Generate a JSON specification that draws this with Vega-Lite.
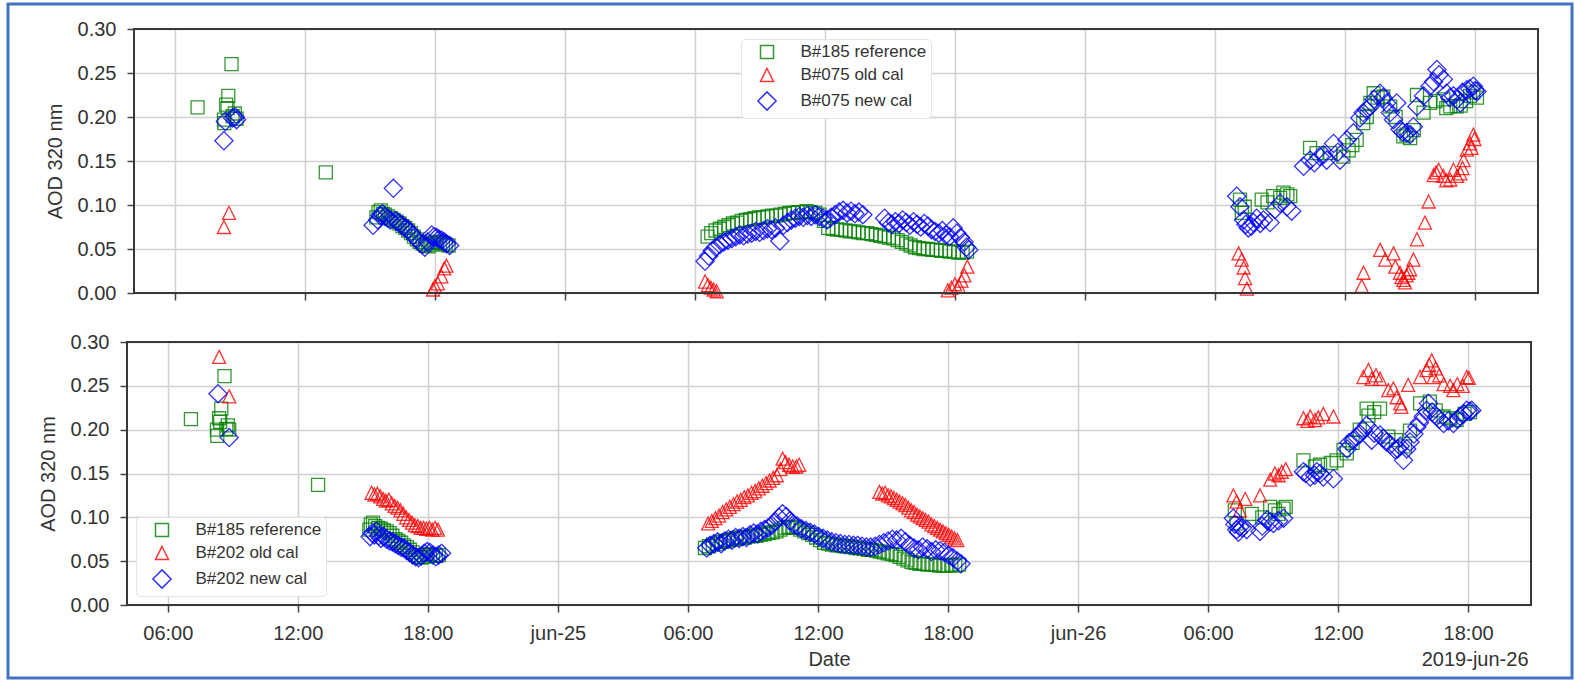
{
"$schema": "https://vega.github.io/schema/vega-lite/v6.json",
"width": 1564, "height": 674,
"autosize": {"type": "none"},
"padding": {"left": 8, "top": 4, "right": 3, "bottom": 4},
"background": "white",
"config": {
  "font": "Liberation Sans",
  "view": {"stroke": "#4472c4", "strokeWidth": 3},
  "axis": {"labelFont": "Liberation Sans", "labelFontSize": 20, "labelColor": "#333333", "titleFont": "Liberation Sans", "titleFontSize": 20, "titleFontWeight": "normal", "titleColor": "#333333", "tickColor": "#444444", "tickWidth": 1.5, "tickSize": 7, "gridColor": "#d0d0d0", "gridWidth": 1.5, "domain": false, "labelPadding": 11, "labelFlush": false},
  "legend": {"labelFont": "Liberation Sans", "labelFontSize": 17, "labelColor": "#333333", "symbolStrokeWidth": 1.5, "symbolSize": 169, "padding": 4.5, "rowPadding": 4, "symbolOffset": 13, "labelOffset": 25, "fillColor": "white", "strokeColor": "#e4e4e4", "cornerRadius": 4, "labelLimit": 300}
},
"resolve": {"scale": {"x": "independent", "y": "independent", "color": "independent", "shape": "independent"}},
"datasets": {
"top": [
{"t":"2019-06-24T07:03","s":"B#185 reference","v":0.211},{"t":"2019-06-24T08:16","s":"B#185 reference","v":0.197},{"t":"2019-06-24T08:17","s":"B#185 reference","v":0.193},{"t":"2019-06-24T08:22","s":"B#185 reference","v":0.214},{"t":"2019-06-24T08:26","s":"B#185 reference","v":0.210},{"t":"2019-06-24T08:28","s":"B#185 reference","v":0.224},{"t":"2019-06-24T08:37","s":"B#185 reference","v":0.260},{"t":"2019-06-24T08:40","s":"B#185 reference","v":0.201},{"t":"2019-06-24T08:46","s":"B#185 reference","v":0.204},{"t":"2019-06-24T08:51","s":"B#185 reference","v":0.198},{"t":"2019-06-24T12:58","s":"B#185 reference","v":0.137},
{"t":"2019-06-24T15:18","s":"B#185 reference","v":0.086},{"t":"2019-06-24T15:24","s":"B#185 reference","v":0.092},{"t":"2019-06-24T15:30","s":"B#185 reference","v":0.094},{"t":"2019-06-24T15:36","s":"B#185 reference","v":0.090},{"t":"2019-06-24T15:42","s":"B#185 reference","v":0.089},{"t":"2019-06-24T15:50","s":"B#185 reference","v":0.087},{"t":"2019-06-24T15:58","s":"B#185 reference","v":0.085},{"t":"2019-06-24T16:06","s":"B#185 reference","v":0.083},{"t":"2019-06-24T16:14","s":"B#185 reference","v":0.081},{"t":"2019-06-24T16:22","s":"B#185 reference","v":0.079},{"t":"2019-06-24T16:30","s":"B#185 reference","v":0.076},{"t":"2019-06-24T16:38","s":"B#185 reference","v":0.074},{"t":"2019-06-24T16:46","s":"B#185 reference","v":0.071},{"t":"2019-06-24T16:54","s":"B#185 reference","v":0.068},{"t":"2019-06-24T17:02","s":"B#185 reference","v":0.064},{"t":"2019-06-24T17:10","s":"B#185 reference","v":0.061},{"t":"2019-06-24T17:18","s":"B#185 reference","v":0.058},{"t":"2019-06-24T17:26","s":"B#185 reference","v":0.056},{"t":"2019-06-24T17:34","s":"B#185 reference","v":0.054},{"t":"2019-06-24T17:42","s":"B#185 reference","v":0.053},{"t":"2019-06-24T17:50","s":"B#185 reference","v":0.055},{"t":"2019-06-24T17:58","s":"B#185 reference","v":0.057},{"t":"2019-06-24T18:06","s":"B#185 reference","v":0.058},{"t":"2019-06-24T18:14","s":"B#185 reference","v":0.057},{"t":"2019-06-24T18:22","s":"B#185 reference","v":0.056},{"t":"2019-06-24T18:30","s":"B#185 reference","v":0.055},{"t":"2019-06-24T18:38","s":"B#185 reference","v":0.054},
{"t":"2019-06-25T06:35","s":"B#185 reference","v":0.064},{"t":"2019-06-25T06:45","s":"B#185 reference","v":0.068},{"t":"2019-06-25T06:57","s":"B#185 reference","v":0.071},{"t":"2019-06-25T07:09","s":"B#185 reference","v":0.073},{"t":"2019-06-25T07:21","s":"B#185 reference","v":0.075},{"t":"2019-06-25T07:33","s":"B#185 reference","v":0.077},{"t":"2019-06-25T07:45","s":"B#185 reference","v":0.079},{"t":"2019-06-25T07:57","s":"B#185 reference","v":0.080},{"t":"2019-06-25T08:09","s":"B#185 reference","v":0.082},{"t":"2019-06-25T08:21","s":"B#185 reference","v":0.083},{"t":"2019-06-25T08:33","s":"B#185 reference","v":0.084},{"t":"2019-06-25T08:45","s":"B#185 reference","v":0.085},{"t":"2019-06-25T08:57","s":"B#185 reference","v":0.086},{"t":"2019-06-25T09:09","s":"B#185 reference","v":0.086},{"t":"2019-06-25T09:21","s":"B#185 reference","v":0.087},{"t":"2019-06-25T09:33","s":"B#185 reference","v":0.088},{"t":"2019-06-25T09:45","s":"B#185 reference","v":0.088},{"t":"2019-06-25T09:57","s":"B#185 reference","v":0.089},{"t":"2019-06-25T10:09","s":"B#185 reference","v":0.090},{"t":"2019-06-25T10:21","s":"B#185 reference","v":0.091},{"t":"2019-06-25T10:33","s":"B#185 reference","v":0.091},{"t":"2019-06-25T10:45","s":"B#185 reference","v":0.092},{"t":"2019-06-25T10:57","s":"B#185 reference","v":0.092},{"t":"2019-06-25T11:09","s":"B#185 reference","v":0.093},{"t":"2019-06-25T11:21","s":"B#185 reference","v":0.092},{"t":"2019-06-25T11:33","s":"B#185 reference","v":0.091},{"t":"2019-06-25T11:45","s":"B#185 reference","v":0.089},{"t":"2019-06-25T11:57","s":"B#185 reference","v":0.082},{"t":"2019-06-25T12:09","s":"B#185 reference","v":0.074},{"t":"2019-06-25T12:21","s":"B#185 reference","v":0.073},{"t":"2019-06-25T12:33","s":"B#185 reference","v":0.072},{"t":"2019-06-25T12:45","s":"B#185 reference","v":0.072},{"t":"2019-06-25T12:57","s":"B#185 reference","v":0.071},{"t":"2019-06-25T13:09","s":"B#185 reference","v":0.070},{"t":"2019-06-25T13:21","s":"B#185 reference","v":0.070},{"t":"2019-06-25T13:33","s":"B#185 reference","v":0.069},{"t":"2019-06-25T13:45","s":"B#185 reference","v":0.068},{"t":"2019-06-25T13:57","s":"B#185 reference","v":0.068},{"t":"2019-06-25T14:09","s":"B#185 reference","v":0.067},{"t":"2019-06-25T14:21","s":"B#185 reference","v":0.066},{"t":"2019-06-25T14:33","s":"B#185 reference","v":0.065},{"t":"2019-06-25T14:45","s":"B#185 reference","v":0.064},{"t":"2019-06-25T14:57","s":"B#185 reference","v":0.063},{"t":"2019-06-25T15:09","s":"B#185 reference","v":0.062},{"t":"2019-06-25T15:21","s":"B#185 reference","v":0.060},{"t":"2019-06-25T15:33","s":"B#185 reference","v":0.058},{"t":"2019-06-25T15:45","s":"B#185 reference","v":0.056},{"t":"2019-06-25T15:57","s":"B#185 reference","v":0.054},{"t":"2019-06-25T16:09","s":"B#185 reference","v":0.052},{"t":"2019-06-25T16:21","s":"B#185 reference","v":0.051},{"t":"2019-06-25T16:33","s":"B#185 reference","v":0.050},{"t":"2019-06-25T16:45","s":"B#185 reference","v":0.050},{"t":"2019-06-25T16:57","s":"B#185 reference","v":0.049},{"t":"2019-06-25T17:09","s":"B#185 reference","v":0.049},{"t":"2019-06-25T17:21","s":"B#185 reference","v":0.048},{"t":"2019-06-25T17:33","s":"B#185 reference","v":0.048},{"t":"2019-06-25T17:45","s":"B#185 reference","v":0.047},{"t":"2019-06-25T17:57","s":"B#185 reference","v":0.047},{"t":"2019-06-25T18:09","s":"B#185 reference","v":0.046},{"t":"2019-06-25T18:21","s":"B#185 reference","v":0.046},{"t":"2019-06-25T18:33","s":"B#185 reference","v":0.047},
{"t":"2019-06-26T07:09","s":"B#185 reference","v":0.106},{"t":"2019-06-26T07:14","s":"B#185 reference","v":0.091},{"t":"2019-06-26T07:22","s":"B#185 reference","v":0.098},{"t":"2019-06-26T08:09","s":"B#185 reference","v":0.106},{"t":"2019-06-26T08:25","s":"B#185 reference","v":0.103},{"t":"2019-06-26T08:41","s":"B#185 reference","v":0.110},{"t":"2019-06-26T09:00","s":"B#185 reference","v":0.108},{"t":"2019-06-26T09:09","s":"B#185 reference","v":0.114},{"t":"2019-06-26T09:20","s":"B#185 reference","v":0.112},{"t":"2019-06-26T09:28","s":"B#185 reference","v":0.110},{"t":"2019-06-26T10:23","s":"B#185 reference","v":0.165},{"t":"2019-06-26T10:41","s":"B#185 reference","v":0.159},{"t":"2019-06-26T11:19","s":"B#185 reference","v":0.159},{"t":"2019-06-26T11:55","s":"B#185 reference","v":0.155},{"t":"2019-06-26T12:10","s":"B#185 reference","v":0.162},{"t":"2019-06-26T12:20","s":"B#185 reference","v":0.168},{"t":"2019-06-26T12:32","s":"B#185 reference","v":0.174},{"t":"2019-06-26T12:50","s":"B#185 reference","v":0.193},{"t":"2019-06-26T13:00","s":"B#185 reference","v":0.200},{"t":"2019-06-26T13:10","s":"B#185 reference","v":0.216},{"t":"2019-06-26T13:19","s":"B#185 reference","v":0.227},{"t":"2019-06-26T13:30","s":"B#185 reference","v":0.222},{"t":"2019-06-26T13:46","s":"B#185 reference","v":0.223},{"t":"2019-06-26T14:05","s":"B#185 reference","v":0.212},{"t":"2019-06-26T14:20","s":"B#185 reference","v":0.200},{"t":"2019-06-26T14:41","s":"B#185 reference","v":0.178},{"t":"2019-06-26T14:50","s":"B#185 reference","v":0.180},{"t":"2019-06-26T15:00","s":"B#185 reference","v":0.176},{"t":"2019-06-26T15:10","s":"B#185 reference","v":0.185},{"t":"2019-06-26T15:19","s":"B#185 reference","v":0.225},{"t":"2019-06-26T15:37","s":"B#185 reference","v":0.205},{"t":"2019-06-26T15:55","s":"B#185 reference","v":0.216},{"t":"2019-06-26T16:10","s":"B#185 reference","v":0.218},{"t":"2019-06-26T16:32","s":"B#185 reference","v":0.220},{"t":"2019-06-26T16:40","s":"B#185 reference","v":0.210},{"t":"2019-06-26T16:51","s":"B#185 reference","v":0.212},{"t":"2019-06-26T17:09","s":"B#185 reference","v":0.212},{"t":"2019-06-26T17:20","s":"B#185 reference","v":0.213},{"t":"2019-06-26T17:35","s":"B#185 reference","v":0.218},{"t":"2019-06-26T17:46","s":"B#185 reference","v":0.224},{"t":"2019-06-26T17:55","s":"B#185 reference","v":0.228},{"t":"2019-06-26T18:05","s":"B#185 reference","v":0.222},
{"t":"2019-06-24T08:16","s":"B#075 old cal","v":0.075},{"t":"2019-06-24T08:30","s":"B#075 old cal","v":0.091},{"t":"2019-06-24T17:55","s":"B#075 old cal","v":0.004},{"t":"2019-06-24T18:00","s":"B#075 old cal","v":0.008},{"t":"2019-06-24T18:08","s":"B#075 old cal","v":0.011},{"t":"2019-06-24T18:18","s":"B#075 old cal","v":0.019},{"t":"2019-06-24T18:26","s":"B#075 old cal","v":0.028},{"t":"2019-06-24T18:32","s":"B#075 old cal","v":0.031},
{"t":"2019-06-25T06:28","s":"B#075 old cal","v":0.013},{"t":"2019-06-25T06:36","s":"B#075 old cal","v":0.009},{"t":"2019-06-25T06:44","s":"B#075 old cal","v":0.006},{"t":"2019-06-25T06:52","s":"B#075 old cal","v":0.004},{"t":"2019-06-25T07:00","s":"B#075 old cal","v":0.002},{"t":"2019-06-25T17:40","s":"B#075 old cal","v":0.003},{"t":"2019-06-25T17:50","s":"B#075 old cal","v":0.006},{"t":"2019-06-25T18:00","s":"B#075 old cal","v":0.010},{"t":"2019-06-25T18:10","s":"B#075 old cal","v":0.008},{"t":"2019-06-25T18:18","s":"B#075 old cal","v":0.014},{"t":"2019-06-25T18:26","s":"B#075 old cal","v":0.020},{"t":"2019-06-25T18:34","s":"B#075 old cal","v":0.030},
{"t":"2019-06-26T07:05","s":"B#075 old cal","v":0.045},{"t":"2019-06-26T07:14","s":"B#075 old cal","v":0.038},{"t":"2019-06-26T07:19","s":"B#075 old cal","v":0.029},{"t":"2019-06-26T07:23","s":"B#075 old cal","v":0.017},{"t":"2019-06-26T07:28","s":"B#075 old cal","v":0.005},{"t":"2019-06-26T12:46","s":"B#075 old cal","v":0.008},{"t":"2019-06-26T12:51","s":"B#075 old cal","v":0.023},{"t":"2019-06-26T13:37","s":"B#075 old cal","v":0.049},{"t":"2019-06-26T13:51","s":"B#075 old cal","v":0.038},{"t":"2019-06-26T14:14","s":"B#075 old cal","v":0.045},{"t":"2019-06-26T14:19","s":"B#075 old cal","v":0.030},{"t":"2019-06-26T14:32","s":"B#075 old cal","v":0.023},{"t":"2019-06-26T14:36","s":"B#075 old cal","v":0.018},{"t":"2019-06-26T14:41","s":"B#075 old cal","v":0.015},{"t":"2019-06-26T14:46","s":"B#075 old cal","v":0.012},{"t":"2019-06-26T14:50","s":"B#075 old cal","v":0.020},{"t":"2019-06-26T14:55","s":"B#075 old cal","v":0.023},{"t":"2019-06-26T15:00","s":"B#075 old cal","v":0.027},{"t":"2019-06-26T15:09","s":"B#075 old cal","v":0.038},{"t":"2019-06-26T15:19","s":"B#075 old cal","v":0.061},{"t":"2019-06-26T15:41","s":"B#075 old cal","v":0.080},{"t":"2019-06-26T15:51","s":"B#075 old cal","v":0.104},{"t":"2019-06-26T16:05","s":"B#075 old cal","v":0.134},{"t":"2019-06-26T16:12","s":"B#075 old cal","v":0.137},{"t":"2019-06-26T16:19","s":"B#075 old cal","v":0.140},{"t":"2019-06-26T16:32","s":"B#075 old cal","v":0.133},{"t":"2019-06-26T16:40","s":"B#075 old cal","v":0.128},{"t":"2019-06-26T16:51","s":"B#075 old cal","v":0.129},{"t":"2019-06-26T17:00","s":"B#075 old cal","v":0.140},{"t":"2019-06-26T17:10","s":"B#075 old cal","v":0.133},{"t":"2019-06-26T17:19","s":"B#075 old cal","v":0.136},{"t":"2019-06-26T17:25","s":"B#075 old cal","v":0.142},{"t":"2019-06-26T17:28","s":"B#075 old cal","v":0.151},{"t":"2019-06-26T17:37","s":"B#075 old cal","v":0.163},{"t":"2019-06-26T17:46","s":"B#075 old cal","v":0.170},{"t":"2019-06-26T17:50","s":"B#075 old cal","v":0.165},{"t":"2019-06-26T17:55","s":"B#075 old cal","v":0.180},{"t":"2019-06-26T17:58","s":"B#075 old cal","v":0.175},
{"t":"2019-06-24T08:16","s":"B#075 new cal","v":0.173},{"t":"2019-06-24T08:20","s":"B#075 new cal","v":0.195},{"t":"2019-06-24T08:40","s":"B#075 new cal","v":0.199},{"t":"2019-06-24T08:47","s":"B#075 new cal","v":0.200},{"t":"2019-06-24T08:51","s":"B#075 new cal","v":0.197},
{"t":"2019-06-24T15:09","s":"B#075 new cal","v":0.077},{"t":"2019-06-24T15:22","s":"B#075 new cal","v":0.083},{"t":"2019-06-24T15:28","s":"B#075 new cal","v":0.088},{"t":"2019-06-24T15:35","s":"B#075 new cal","v":0.090},{"t":"2019-06-24T15:42","s":"B#075 new cal","v":0.087},{"t":"2019-06-24T15:50","s":"B#075 new cal","v":0.085},{"t":"2019-06-24T15:57","s":"B#075 new cal","v":0.083},{"t":"2019-06-24T16:05","s":"B#075 new cal","v":0.119},{"t":"2019-06-24T16:12","s":"B#075 new cal","v":0.082},{"t":"2019-06-24T16:19","s":"B#075 new cal","v":0.080},{"t":"2019-06-24T16:26","s":"B#075 new cal","v":0.078},{"t":"2019-06-24T16:32","s":"B#075 new cal","v":0.076},{"t":"2019-06-24T16:39","s":"B#075 new cal","v":0.074},{"t":"2019-06-24T16:46","s":"B#075 new cal","v":0.072},{"t":"2019-06-24T16:53","s":"B#075 new cal","v":0.069},{"t":"2019-06-24T17:00","s":"B#075 new cal","v":0.065},{"t":"2019-06-24T17:10","s":"B#075 new cal","v":0.061},{"t":"2019-06-24T17:18","s":"B#075 new cal","v":0.057},{"t":"2019-06-24T17:25","s":"B#075 new cal","v":0.055},{"t":"2019-06-24T17:32","s":"B#075 new cal","v":0.052},{"t":"2019-06-24T17:40","s":"B#075 new cal","v":0.058},{"t":"2019-06-24T17:51","s":"B#075 new cal","v":0.066},{"t":"2019-06-24T17:58","s":"B#075 new cal","v":0.064},{"t":"2019-06-24T18:05","s":"B#075 new cal","v":0.063},{"t":"2019-06-24T18:12","s":"B#075 new cal","v":0.061},{"t":"2019-06-24T18:19","s":"B#075 new cal","v":0.060},{"t":"2019-06-24T18:26","s":"B#075 new cal","v":0.058},{"t":"2019-06-24T18:32","s":"B#075 new cal","v":0.056},{"t":"2019-06-24T18:41","s":"B#075 new cal","v":0.054},
{"t":"2019-06-25T06:28","s":"B#075 new cal","v":0.036},{"t":"2019-06-25T06:38","s":"B#075 new cal","v":0.042},{"t":"2019-06-25T06:48","s":"B#075 new cal","v":0.048},{"t":"2019-06-25T06:58","s":"B#075 new cal","v":0.052},{"t":"2019-06-25T07:09","s":"B#075 new cal","v":0.055},{"t":"2019-06-25T07:20","s":"B#075 new cal","v":0.058},{"t":"2019-06-25T07:31","s":"B#075 new cal","v":0.060},{"t":"2019-06-25T07:42","s":"B#075 new cal","v":0.062},{"t":"2019-06-25T07:53","s":"B#075 new cal","v":0.064},{"t":"2019-06-25T08:04","s":"B#075 new cal","v":0.066},{"t":"2019-06-25T08:15","s":"B#075 new cal","v":0.065},{"t":"2019-06-25T08:26","s":"B#075 new cal","v":0.067},{"t":"2019-06-25T08:37","s":"B#075 new cal","v":0.068},{"t":"2019-06-25T08:48","s":"B#075 new cal","v":0.070},{"t":"2019-06-25T08:59","s":"B#075 new cal","v":0.069},{"t":"2019-06-25T09:10","s":"B#075 new cal","v":0.071},{"t":"2019-06-25T09:21","s":"B#075 new cal","v":0.073},{"t":"2019-06-25T09:32","s":"B#075 new cal","v":0.072},{"t":"2019-06-25T09:43","s":"B#075 new cal","v":0.074},{"t":"2019-06-25T09:55","s":"B#075 new cal","v":0.059},{"t":"2019-06-25T10:05","s":"B#075 new cal","v":0.077},{"t":"2019-06-25T10:16","s":"B#075 new cal","v":0.080},{"t":"2019-06-25T10:27","s":"B#075 new cal","v":0.083},{"t":"2019-06-25T10:38","s":"B#075 new cal","v":0.085},{"t":"2019-06-25T10:49","s":"B#075 new cal","v":0.087},{"t":"2019-06-25T11:00","s":"B#075 new cal","v":0.086},{"t":"2019-06-25T11:11","s":"B#075 new cal","v":0.088},{"t":"2019-06-25T11:22","s":"B#075 new cal","v":0.087},{"t":"2019-06-25T11:33","s":"B#075 new cal","v":0.089},{"t":"2019-06-25T11:44","s":"B#075 new cal","v":0.087},{"t":"2019-06-25T11:55","s":"B#075 new cal","v":0.085},{"t":"2019-06-25T12:06","s":"B#075 new cal","v":0.083},{"t":"2019-06-25T12:17","s":"B#075 new cal","v":0.086},{"t":"2019-06-25T12:28","s":"B#075 new cal","v":0.089},{"t":"2019-06-25T12:39","s":"B#075 new cal","v":0.092},{"t":"2019-06-25T12:50","s":"B#075 new cal","v":0.094},{"t":"2019-06-25T13:01","s":"B#075 new cal","v":0.091},{"t":"2019-06-25T13:12","s":"B#075 new cal","v":0.093},{"t":"2019-06-25T13:23","s":"B#075 new cal","v":0.090},{"t":"2019-06-25T13:34","s":"B#075 new cal","v":0.092},{"t":"2019-06-25T13:45","s":"B#075 new cal","v":0.089},{"t":"2019-06-25T14:45","s":"B#075 new cal","v":0.085},{"t":"2019-06-25T14:55","s":"B#075 new cal","v":0.080},{"t":"2019-06-25T15:05","s":"B#075 new cal","v":0.078},{"t":"2019-06-25T15:15","s":"B#075 new cal","v":0.081},{"t":"2019-06-25T15:25","s":"B#075 new cal","v":0.079},{"t":"2019-06-25T15:35","s":"B#075 new cal","v":0.083},{"t":"2019-06-25T15:45","s":"B#075 new cal","v":0.080},{"t":"2019-06-25T15:55","s":"B#075 new cal","v":0.077},{"t":"2019-06-25T16:05","s":"B#075 new cal","v":0.081},{"t":"2019-06-25T16:15","s":"B#075 new cal","v":0.078},{"t":"2019-06-25T16:25","s":"B#075 new cal","v":0.075},{"t":"2019-06-25T16:35","s":"B#075 new cal","v":0.079},{"t":"2019-06-25T16:45","s":"B#075 new cal","v":0.076},{"t":"2019-06-25T16:55","s":"B#075 new cal","v":0.072},{"t":"2019-06-25T17:05","s":"B#075 new cal","v":0.070},{"t":"2019-06-25T17:15","s":"B#075 new cal","v":0.068},{"t":"2019-06-25T17:25","s":"B#075 new cal","v":0.071},{"t":"2019-06-25T17:35","s":"B#075 new cal","v":0.066},{"t":"2019-06-25T17:45","s":"B#075 new cal","v":0.064},{"t":"2019-06-25T17:55","s":"B#075 new cal","v":0.074},{"t":"2019-06-25T18:05","s":"B#075 new cal","v":0.068},{"t":"2019-06-25T18:15","s":"B#075 new cal","v":0.063},{"t":"2019-06-25T18:25","s":"B#075 new cal","v":0.058},{"t":"2019-06-25T18:32","s":"B#075 new cal","v":0.052},{"t":"2019-06-25T18:38","s":"B#075 new cal","v":0.049},
{"t":"2019-06-26T07:00","s":"B#075 new cal","v":0.110},{"t":"2019-06-26T07:09","s":"B#075 new cal","v":0.098},{"t":"2019-06-26T07:19","s":"B#075 new cal","v":0.083},{"t":"2019-06-26T07:25","s":"B#075 new cal","v":0.078},{"t":"2019-06-26T07:32","s":"B#075 new cal","v":0.074},{"t":"2019-06-26T07:40","s":"B#075 new cal","v":0.076},{"t":"2019-06-26T07:46","s":"B#075 new cal","v":0.080},{"t":"2019-06-26T07:55","s":"B#075 new cal","v":0.085},{"t":"2019-06-26T08:05","s":"B#075 new cal","v":0.079},{"t":"2019-06-26T08:14","s":"B#075 new cal","v":0.083},{"t":"2019-06-26T08:32","s":"B#075 new cal","v":0.080},{"t":"2019-06-26T08:46","s":"B#075 new cal","v":0.095},{"t":"2019-06-26T09:00","s":"B#075 new cal","v":0.102},{"t":"2019-06-26T09:19","s":"B#075 new cal","v":0.098},{"t":"2019-06-26T09:32","s":"B#075 new cal","v":0.093},{"t":"2019-06-26T10:05","s":"B#075 new cal","v":0.144},{"t":"2019-06-26T10:23","s":"B#075 new cal","v":0.151},{"t":"2019-06-26T10:35","s":"B#075 new cal","v":0.148},{"t":"2019-06-26T10:50","s":"B#075 new cal","v":0.155},{"t":"2019-06-26T11:00","s":"B#075 new cal","v":0.157},{"t":"2019-06-26T11:09","s":"B#075 new cal","v":0.151},{"t":"2019-06-26T11:28","s":"B#075 new cal","v":0.170},{"t":"2019-06-26T11:40","s":"B#075 new cal","v":0.160},{"t":"2019-06-26T11:46","s":"B#075 new cal","v":0.151},{"t":"2019-06-26T12:05","s":"B#075 new cal","v":0.174},{"t":"2019-06-26T12:23","s":"B#075 new cal","v":0.182},{"t":"2019-06-26T12:41","s":"B#075 new cal","v":0.199},{"t":"2019-06-26T12:50","s":"B#075 new cal","v":0.205},{"t":"2019-06-26T13:00","s":"B#075 new cal","v":0.208},{"t":"2019-06-26T13:09","s":"B#075 new cal","v":0.212},{"t":"2019-06-26T13:20","s":"B#075 new cal","v":0.220},{"t":"2019-06-26T13:37","s":"B#075 new cal","v":0.227},{"t":"2019-06-26T13:45","s":"B#075 new cal","v":0.222},{"t":"2019-06-26T13:55","s":"B#075 new cal","v":0.216},{"t":"2019-06-26T14:05","s":"B#075 new cal","v":0.205},{"t":"2019-06-26T14:14","s":"B#075 new cal","v":0.197},{"t":"2019-06-26T14:23","s":"B#075 new cal","v":0.216},{"t":"2019-06-26T14:32","s":"B#075 new cal","v":0.186},{"t":"2019-06-26T14:40","s":"B#075 new cal","v":0.183},{"t":"2019-06-26T14:50","s":"B#075 new cal","v":0.182},{"t":"2019-06-26T15:00","s":"B#075 new cal","v":0.180},{"t":"2019-06-26T15:09","s":"B#075 new cal","v":0.189},{"t":"2019-06-26T15:19","s":"B#075 new cal","v":0.212},{"t":"2019-06-26T15:37","s":"B#075 new cal","v":0.224},{"t":"2019-06-26T15:55","s":"B#075 new cal","v":0.235},{"t":"2019-06-26T16:05","s":"B#075 new cal","v":0.240},{"t":"2019-06-26T16:14","s":"B#075 new cal","v":0.254},{"t":"2019-06-26T16:20","s":"B#075 new cal","v":0.248},{"t":"2019-06-26T16:32","s":"B#075 new cal","v":0.243},{"t":"2019-06-26T16:41","s":"B#075 new cal","v":0.227},{"t":"2019-06-26T16:50","s":"B#075 new cal","v":0.222},{"t":"2019-06-26T17:00","s":"B#075 new cal","v":0.224},{"t":"2019-06-26T17:10","s":"B#075 new cal","v":0.220},{"t":"2019-06-26T17:19","s":"B#075 new cal","v":0.216},{"t":"2019-06-26T17:25","s":"B#075 new cal","v":0.228},{"t":"2019-06-26T17:37","s":"B#075 new cal","v":0.231},{"t":"2019-06-26T17:45","s":"B#075 new cal","v":0.232},{"t":"2019-06-26T17:55","s":"B#075 new cal","v":0.235},{"t":"2019-06-26T18:00","s":"B#075 new cal","v":0.230},{"t":"2019-06-26T18:05","s":"B#075 new cal","v":0.229}
],
"bot": [
{"t":"2019-06-24T07:04","s":"B#185 reference","v":0.212},{"t":"2019-06-24T08:16","s":"B#185 reference","v":0.200},{"t":"2019-06-24T08:17","s":"B#185 reference","v":0.193},{"t":"2019-06-24T08:22","s":"B#185 reference","v":0.213},{"t":"2019-06-24T08:25","s":"B#185 reference","v":0.209},{"t":"2019-06-24T08:28","s":"B#185 reference","v":0.224},{"t":"2019-06-24T08:37","s":"B#185 reference","v":0.261},{"t":"2019-06-24T08:42","s":"B#185 reference","v":0.201},{"t":"2019-06-24T08:46","s":"B#185 reference","v":0.205},{"t":"2019-06-24T08:50","s":"B#185 reference","v":0.200},{"t":"2019-06-24T12:56","s":"B#185 reference","v":0.137},
{"t":"2019-06-24T15:18","s":"B#185 reference","v":0.086},{"t":"2019-06-24T15:22","s":"B#185 reference","v":0.092},{"t":"2019-06-24T15:28","s":"B#185 reference","v":0.094},{"t":"2019-06-24T15:34","s":"B#185 reference","v":0.090},{"t":"2019-06-24T15:42","s":"B#185 reference","v":0.088},{"t":"2019-06-24T15:50","s":"B#185 reference","v":0.087},{"t":"2019-06-24T15:58","s":"B#185 reference","v":0.085},{"t":"2019-06-24T16:06","s":"B#185 reference","v":0.084},{"t":"2019-06-24T16:14","s":"B#185 reference","v":0.082},{"t":"2019-06-24T16:22","s":"B#185 reference","v":0.079},{"t":"2019-06-24T16:30","s":"B#185 reference","v":0.075},{"t":"2019-06-24T16:38","s":"B#185 reference","v":0.073},{"t":"2019-06-24T16:46","s":"B#185 reference","v":0.071},{"t":"2019-06-24T16:54","s":"B#185 reference","v":0.068},{"t":"2019-06-24T17:02","s":"B#185 reference","v":0.066},{"t":"2019-06-24T17:10","s":"B#185 reference","v":0.063},{"t":"2019-06-24T17:18","s":"B#185 reference","v":0.060},{"t":"2019-06-24T17:26","s":"B#185 reference","v":0.057},{"t":"2019-06-24T17:34","s":"B#185 reference","v":0.055},{"t":"2019-06-24T17:42","s":"B#185 reference","v":0.054},{"t":"2019-06-24T17:50","s":"B#185 reference","v":0.055},{"t":"2019-06-24T17:58","s":"B#185 reference","v":0.057},{"t":"2019-06-24T18:06","s":"B#185 reference","v":0.058},{"t":"2019-06-24T18:14","s":"B#185 reference","v":0.057},{"t":"2019-06-24T18:22","s":"B#185 reference","v":0.056},{"t":"2019-06-24T18:30","s":"B#185 reference","v":0.057},
{"t":"2019-06-25T06:47","s":"B#185 reference","v":0.065},{"t":"2019-06-25T06:58","s":"B#185 reference","v":0.067},{"t":"2019-06-25T07:09","s":"B#185 reference","v":0.069},{"t":"2019-06-25T07:20","s":"B#185 reference","v":0.070},{"t":"2019-06-25T07:31","s":"B#185 reference","v":0.072},{"t":"2019-06-25T07:42","s":"B#185 reference","v":0.073},{"t":"2019-06-25T07:53","s":"B#185 reference","v":0.074},{"t":"2019-06-25T08:04","s":"B#185 reference","v":0.075},{"t":"2019-06-25T08:15","s":"B#185 reference","v":0.076},{"t":"2019-06-25T08:26","s":"B#185 reference","v":0.077},{"t":"2019-06-25T08:37","s":"B#185 reference","v":0.077},{"t":"2019-06-25T08:48","s":"B#185 reference","v":0.078},{"t":"2019-06-25T08:59","s":"B#185 reference","v":0.079},{"t":"2019-06-25T09:10","s":"B#185 reference","v":0.079},{"t":"2019-06-25T09:21","s":"B#185 reference","v":0.080},{"t":"2019-06-25T09:32","s":"B#185 reference","v":0.081},{"t":"2019-06-25T09:43","s":"B#185 reference","v":0.082},{"t":"2019-06-25T09:54","s":"B#185 reference","v":0.083},{"t":"2019-06-25T10:05","s":"B#185 reference","v":0.084},{"t":"2019-06-25T10:16","s":"B#185 reference","v":0.086},{"t":"2019-06-25T10:27","s":"B#185 reference","v":0.088},{"t":"2019-06-25T10:38","s":"B#185 reference","v":0.089},{"t":"2019-06-25T10:49","s":"B#185 reference","v":0.089},{"t":"2019-06-25T11:00","s":"B#185 reference","v":0.088},{"t":"2019-06-25T11:11","s":"B#185 reference","v":0.086},{"t":"2019-06-25T11:22","s":"B#185 reference","v":0.084},{"t":"2019-06-25T11:33","s":"B#185 reference","v":0.082},{"t":"2019-06-25T11:44","s":"B#185 reference","v":0.080},{"t":"2019-06-25T11:55","s":"B#185 reference","v":0.077},{"t":"2019-06-25T12:06","s":"B#185 reference","v":0.074},{"t":"2019-06-25T12:17","s":"B#185 reference","v":0.071},{"t":"2019-06-25T12:28","s":"B#185 reference","v":0.070},{"t":"2019-06-25T12:39","s":"B#185 reference","v":0.069},{"t":"2019-06-25T12:50","s":"B#185 reference","v":0.068},{"t":"2019-06-25T13:01","s":"B#185 reference","v":0.068},{"t":"2019-06-25T13:12","s":"B#185 reference","v":0.067},{"t":"2019-06-25T13:23","s":"B#185 reference","v":0.067},{"t":"2019-06-25T13:34","s":"B#185 reference","v":0.066},{"t":"2019-06-25T13:45","s":"B#185 reference","v":0.065},{"t":"2019-06-25T13:56","s":"B#185 reference","v":0.065},{"t":"2019-06-25T14:07","s":"B#185 reference","v":0.064},{"t":"2019-06-25T14:18","s":"B#185 reference","v":0.063},{"t":"2019-06-25T14:29","s":"B#185 reference","v":0.063},{"t":"2019-06-25T14:40","s":"B#185 reference","v":0.062},{"t":"2019-06-25T14:51","s":"B#185 reference","v":0.061},{"t":"2019-06-25T15:02","s":"B#185 reference","v":0.060},{"t":"2019-06-25T15:13","s":"B#185 reference","v":0.059},{"t":"2019-06-25T15:24","s":"B#185 reference","v":0.058},{"t":"2019-06-25T15:35","s":"B#185 reference","v":0.057},{"t":"2019-06-25T15:46","s":"B#185 reference","v":0.055},{"t":"2019-06-25T15:57","s":"B#185 reference","v":0.053},{"t":"2019-06-25T16:08","s":"B#185 reference","v":0.051},{"t":"2019-06-25T16:19","s":"B#185 reference","v":0.049},{"t":"2019-06-25T16:30","s":"B#185 reference","v":0.048},{"t":"2019-06-25T16:41","s":"B#185 reference","v":0.047},{"t":"2019-06-25T16:52","s":"B#185 reference","v":0.047},{"t":"2019-06-25T17:03","s":"B#185 reference","v":0.046},{"t":"2019-06-25T17:14","s":"B#185 reference","v":0.046},{"t":"2019-06-25T17:25","s":"B#185 reference","v":0.046},{"t":"2019-06-25T17:36","s":"B#185 reference","v":0.045},{"t":"2019-06-25T17:47","s":"B#185 reference","v":0.045},{"t":"2019-06-25T17:58","s":"B#185 reference","v":0.045},{"t":"2019-06-25T18:09","s":"B#185 reference","v":0.046},{"t":"2019-06-25T18:20","s":"B#185 reference","v":0.045},{"t":"2019-06-25T18:31","s":"B#185 reference","v":0.046},
{"t":"2019-06-26T07:14","s":"B#185 reference","v":0.108},{"t":"2019-06-26T07:19","s":"B#185 reference","v":0.093},{"t":"2019-06-26T08:01","s":"B#185 reference","v":0.104},{"t":"2019-06-26T08:30","s":"B#185 reference","v":0.100},{"t":"2019-06-26T08:52","s":"B#185 reference","v":0.112},{"t":"2019-06-26T09:05","s":"B#185 reference","v":0.108},{"t":"2019-06-26T09:15","s":"B#185 reference","v":0.104},{"t":"2019-06-26T09:29","s":"B#185 reference","v":0.110},{"t":"2019-06-26T09:35","s":"B#185 reference","v":0.112},{"t":"2019-06-26T10:24","s":"B#185 reference","v":0.165},{"t":"2019-06-26T10:56","s":"B#185 reference","v":0.158},{"t":"2019-06-26T11:10","s":"B#185 reference","v":0.160},{"t":"2019-06-26T11:40","s":"B#185 reference","v":0.162},{"t":"2019-06-26T11:56","s":"B#185 reference","v":0.165},{"t":"2019-06-26T12:15","s":"B#185 reference","v":0.177},{"t":"2019-06-26T12:24","s":"B#185 reference","v":0.173},{"t":"2019-06-26T12:40","s":"B#185 reference","v":0.185},{"t":"2019-06-26T13:00","s":"B#185 reference","v":0.200},{"t":"2019-06-26T13:19","s":"B#185 reference","v":0.224},{"t":"2019-06-26T13:24","s":"B#185 reference","v":0.216},{"t":"2019-06-26T13:40","s":"B#185 reference","v":0.220},{"t":"2019-06-26T13:56","s":"B#185 reference","v":0.224},{"t":"2019-06-26T14:19","s":"B#185 reference","v":0.192},{"t":"2019-06-26T14:40","s":"B#185 reference","v":0.188},{"t":"2019-06-26T15:05","s":"B#185 reference","v":0.181},{"t":"2019-06-26T15:19","s":"B#185 reference","v":0.199},{"t":"2019-06-26T15:47","s":"B#185 reference","v":0.230},{"t":"2019-06-26T16:14","s":"B#185 reference","v":0.232},{"t":"2019-06-26T16:30","s":"B#185 reference","v":0.222},{"t":"2019-06-26T16:52","s":"B#185 reference","v":0.215},{"t":"2019-06-26T17:10","s":"B#185 reference","v":0.213},{"t":"2019-06-26T17:28","s":"B#185 reference","v":0.211},{"t":"2019-06-26T17:50","s":"B#185 reference","v":0.218},{"t":"2019-06-26T18:05","s":"B#185 reference","v":0.220},
{"t":"2019-06-24T08:22","s":"B#202 old cal","v":0.283},{"t":"2019-06-24T08:50","s":"B#202 old cal","v":0.238},
{"t":"2019-06-24T15:24","s":"B#202 old cal","v":0.128},{"t":"2019-06-24T15:32","s":"B#202 old cal","v":0.126},{"t":"2019-06-24T15:40","s":"B#202 old cal","v":0.127},{"t":"2019-06-24T15:48","s":"B#202 old cal","v":0.124},{"t":"2019-06-24T15:56","s":"B#202 old cal","v":0.121},{"t":"2019-06-24T16:04","s":"B#202 old cal","v":0.119},{"t":"2019-06-24T16:12","s":"B#202 old cal","v":0.120},{"t":"2019-06-24T16:20","s":"B#202 old cal","v":0.116},{"t":"2019-06-24T16:28","s":"B#202 old cal","v":0.113},{"t":"2019-06-24T16:36","s":"B#202 old cal","v":0.111},{"t":"2019-06-24T16:44","s":"B#202 old cal","v":0.108},{"t":"2019-06-24T16:52","s":"B#202 old cal","v":0.104},{"t":"2019-06-24T17:00","s":"B#202 old cal","v":0.100},{"t":"2019-06-24T17:08","s":"B#202 old cal","v":0.097},{"t":"2019-06-24T17:16","s":"B#202 old cal","v":0.094},{"t":"2019-06-24T17:24","s":"B#202 old cal","v":0.091},{"t":"2019-06-24T17:32","s":"B#202 old cal","v":0.090},{"t":"2019-06-24T17:40","s":"B#202 old cal","v":0.088},{"t":"2019-06-24T17:48","s":"B#202 old cal","v":0.088},{"t":"2019-06-24T17:56","s":"B#202 old cal","v":0.087},{"t":"2019-06-24T18:04","s":"B#202 old cal","v":0.088},{"t":"2019-06-24T18:12","s":"B#202 old cal","v":0.086},{"t":"2019-06-24T18:20","s":"B#202 old cal","v":0.088},{"t":"2019-06-24T18:28","s":"B#202 old cal","v":0.086},
{"t":"2019-06-25T06:56","s":"B#202 old cal","v":0.093},{"t":"2019-06-25T07:06","s":"B#202 old cal","v":0.096},{"t":"2019-06-25T07:16","s":"B#202 old cal","v":0.099},{"t":"2019-06-25T07:26","s":"B#202 old cal","v":0.102},{"t":"2019-06-25T07:36","s":"B#202 old cal","v":0.106},{"t":"2019-06-25T07:46","s":"B#202 old cal","v":0.109},{"t":"2019-06-25T07:56","s":"B#202 old cal","v":0.112},{"t":"2019-06-25T08:06","s":"B#202 old cal","v":0.115},{"t":"2019-06-25T08:16","s":"B#202 old cal","v":0.118},{"t":"2019-06-25T08:26","s":"B#202 old cal","v":0.120},{"t":"2019-06-25T08:36","s":"B#202 old cal","v":0.123},{"t":"2019-06-25T08:46","s":"B#202 old cal","v":0.125},{"t":"2019-06-25T08:56","s":"B#202 old cal","v":0.128},{"t":"2019-06-25T09:06","s":"B#202 old cal","v":0.130},{"t":"2019-06-25T09:16","s":"B#202 old cal","v":0.133},{"t":"2019-06-25T09:26","s":"B#202 old cal","v":0.136},{"t":"2019-06-25T09:36","s":"B#202 old cal","v":0.139},{"t":"2019-06-25T09:46","s":"B#202 old cal","v":0.142},{"t":"2019-06-25T09:56","s":"B#202 old cal","v":0.145},{"t":"2019-06-25T10:06","s":"B#202 old cal","v":0.148},{"t":"2019-06-25T10:16","s":"B#202 old cal","v":0.155},{"t":"2019-06-25T10:22","s":"B#202 old cal","v":0.167},{"t":"2019-06-25T10:30","s":"B#202 old cal","v":0.163},{"t":"2019-06-25T10:40","s":"B#202 old cal","v":0.160},{"t":"2019-06-25T10:50","s":"B#202 old cal","v":0.158},{"t":"2019-06-25T11:00","s":"B#202 old cal","v":0.158},{"t":"2019-06-25T11:08","s":"B#202 old cal","v":0.160},
{"t":"2019-06-25T14:50","s":"B#202 old cal","v":0.129},{"t":"2019-06-25T14:58","s":"B#202 old cal","v":0.127},{"t":"2019-06-25T15:06","s":"B#202 old cal","v":0.128},{"t":"2019-06-25T15:14","s":"B#202 old cal","v":0.125},{"t":"2019-06-25T15:22","s":"B#202 old cal","v":0.124},{"t":"2019-06-25T15:30","s":"B#202 old cal","v":0.122},{"t":"2019-06-25T15:38","s":"B#202 old cal","v":0.120},{"t":"2019-06-25T15:46","s":"B#202 old cal","v":0.118},{"t":"2019-06-25T15:54","s":"B#202 old cal","v":0.116},{"t":"2019-06-25T16:02","s":"B#202 old cal","v":0.114},{"t":"2019-06-25T16:10","s":"B#202 old cal","v":0.111},{"t":"2019-06-25T16:18","s":"B#202 old cal","v":0.108},{"t":"2019-06-25T16:26","s":"B#202 old cal","v":0.106},{"t":"2019-06-25T16:34","s":"B#202 old cal","v":0.103},{"t":"2019-06-25T16:42","s":"B#202 old cal","v":0.101},{"t":"2019-06-25T16:50","s":"B#202 old cal","v":0.099},{"t":"2019-06-25T16:58","s":"B#202 old cal","v":0.097},{"t":"2019-06-25T17:06","s":"B#202 old cal","v":0.095},{"t":"2019-06-25T17:14","s":"B#202 old cal","v":0.092},{"t":"2019-06-25T17:22","s":"B#202 old cal","v":0.090},{"t":"2019-06-25T17:30","s":"B#202 old cal","v":0.088},{"t":"2019-06-25T17:38","s":"B#202 old cal","v":0.086},{"t":"2019-06-25T17:46","s":"B#202 old cal","v":0.084},{"t":"2019-06-25T17:54","s":"B#202 old cal","v":0.082},{"t":"2019-06-25T18:02","s":"B#202 old cal","v":0.080},{"t":"2019-06-25T18:10","s":"B#202 old cal","v":0.078},{"t":"2019-06-25T18:18","s":"B#202 old cal","v":0.076},{"t":"2019-06-25T18:26","s":"B#202 old cal","v":0.074},
{"t":"2019-06-26T07:10","s":"B#202 old cal","v":0.125},{"t":"2019-06-26T07:19","s":"B#202 old cal","v":0.118},{"t":"2019-06-26T07:28","s":"B#202 old cal","v":0.108},{"t":"2019-06-26T07:43","s":"B#202 old cal","v":0.121},{"t":"2019-06-26T08:24","s":"B#202 old cal","v":0.125},{"t":"2019-06-26T08:52","s":"B#202 old cal","v":0.143},{"t":"2019-06-26T09:05","s":"B#202 old cal","v":0.150},{"t":"2019-06-26T09:15","s":"B#202 old cal","v":0.148},{"t":"2019-06-26T09:24","s":"B#202 old cal","v":0.152},{"t":"2019-06-26T09:35","s":"B#202 old cal","v":0.155},{"t":"2019-06-26T10:24","s":"B#202 old cal","v":0.213},{"t":"2019-06-26T10:35","s":"B#202 old cal","v":0.210},{"t":"2019-06-26T10:43","s":"B#202 old cal","v":0.215},{"t":"2019-06-26T10:56","s":"B#202 old cal","v":0.211},{"t":"2019-06-26T11:05","s":"B#202 old cal","v":0.214},{"t":"2019-06-26T11:19","s":"B#202 old cal","v":0.218},{"t":"2019-06-26T11:47","s":"B#202 old cal","v":0.215},{"t":"2019-06-26T13:10","s":"B#202 old cal","v":0.260},{"t":"2019-06-26T13:24","s":"B#202 old cal","v":0.268},{"t":"2019-06-26T13:33","s":"B#202 old cal","v":0.258},{"t":"2019-06-26T13:45","s":"B#202 old cal","v":0.262},{"t":"2019-06-26T13:56","s":"B#202 old cal","v":0.258},{"t":"2019-06-26T14:19","s":"B#202 old cal","v":0.245},{"t":"2019-06-26T14:33","s":"B#202 old cal","v":0.247},{"t":"2019-06-26T14:42","s":"B#202 old cal","v":0.237},{"t":"2019-06-26T14:52","s":"B#202 old cal","v":0.230},{"t":"2019-06-26T14:55","s":"B#202 old cal","v":0.226},{"t":"2019-06-26T15:14","s":"B#202 old cal","v":0.251},{"t":"2019-06-26T15:47","s":"B#202 old cal","v":0.260},{"t":"2019-06-26T16:05","s":"B#202 old cal","v":0.268},{"t":"2019-06-26T16:12","s":"B#202 old cal","v":0.274},{"t":"2019-06-26T16:19","s":"B#202 old cal","v":0.279},{"t":"2019-06-26T16:24","s":"B#202 old cal","v":0.260},{"t":"2019-06-26T16:30","s":"B#202 old cal","v":0.270},{"t":"2019-06-26T16:40","s":"B#202 old cal","v":0.262},{"t":"2019-06-26T16:52","s":"B#202 old cal","v":0.252},{"t":"2019-06-26T17:10","s":"B#202 old cal","v":0.250},{"t":"2019-06-26T17:19","s":"B#202 old cal","v":0.245},{"t":"2019-06-26T17:30","s":"B#202 old cal","v":0.252},{"t":"2019-06-26T17:45","s":"B#202 old cal","v":0.250},{"t":"2019-06-26T17:56","s":"B#202 old cal","v":0.260},{"t":"2019-06-26T18:02","s":"B#202 old cal","v":0.259},
{"t":"2019-06-24T08:19","s":"B#202 new cal","v":0.241},{"t":"2019-06-24T08:50","s":"B#202 new cal","v":0.191},
{"t":"2019-06-24T15:20","s":"B#202 new cal","v":0.078},{"t":"2019-06-24T15:26","s":"B#202 new cal","v":0.082},{"t":"2019-06-24T15:32","s":"B#202 new cal","v":0.080},{"t":"2019-06-24T15:38","s":"B#202 new cal","v":0.084},{"t":"2019-06-24T15:44","s":"B#202 new cal","v":0.079},{"t":"2019-06-24T15:50","s":"B#202 new cal","v":0.076},{"t":"2019-06-24T15:58","s":"B#202 new cal","v":0.078},{"t":"2019-06-24T16:06","s":"B#202 new cal","v":0.075},{"t":"2019-06-24T16:14","s":"B#202 new cal","v":0.073},{"t":"2019-06-24T16:22","s":"B#202 new cal","v":0.072},{"t":"2019-06-24T16:30","s":"B#202 new cal","v":0.070},{"t":"2019-06-24T16:38","s":"B#202 new cal","v":0.068},{"t":"2019-06-24T16:46","s":"B#202 new cal","v":0.066},{"t":"2019-06-24T16:54","s":"B#202 new cal","v":0.065},{"t":"2019-06-24T17:02","s":"B#202 new cal","v":0.062},{"t":"2019-06-24T17:10","s":"B#202 new cal","v":0.060},{"t":"2019-06-24T17:18","s":"B#202 new cal","v":0.057},{"t":"2019-06-24T17:26","s":"B#202 new cal","v":0.055},{"t":"2019-06-24T17:34","s":"B#202 new cal","v":0.054},{"t":"2019-06-24T17:42","s":"B#202 new cal","v":0.056},{"t":"2019-06-24T17:50","s":"B#202 new cal","v":0.059},{"t":"2019-06-24T17:58","s":"B#202 new cal","v":0.061},{"t":"2019-06-24T18:06","s":"B#202 new cal","v":0.060},{"t":"2019-06-24T18:14","s":"B#202 new cal","v":0.057},{"t":"2019-06-24T18:22","s":"B#202 new cal","v":0.055},{"t":"2019-06-24T18:30","s":"B#202 new cal","v":0.057},{"t":"2019-06-24T18:38","s":"B#202 new cal","v":0.059},
{"t":"2019-06-25T06:52","s":"B#202 new cal","v":0.065},{"t":"2019-06-25T07:02","s":"B#202 new cal","v":0.068},{"t":"2019-06-25T07:12","s":"B#202 new cal","v":0.070},{"t":"2019-06-25T07:22","s":"B#202 new cal","v":0.072},{"t":"2019-06-25T07:32","s":"B#202 new cal","v":0.070},{"t":"2019-06-25T07:42","s":"B#202 new cal","v":0.073},{"t":"2019-06-25T07:52","s":"B#202 new cal","v":0.075},{"t":"2019-06-25T08:02","s":"B#202 new cal","v":0.074},{"t":"2019-06-25T08:12","s":"B#202 new cal","v":0.077},{"t":"2019-06-25T08:22","s":"B#202 new cal","v":0.076},{"t":"2019-06-25T08:32","s":"B#202 new cal","v":0.078},{"t":"2019-06-25T08:42","s":"B#202 new cal","v":0.077},{"t":"2019-06-25T08:52","s":"B#202 new cal","v":0.080},{"t":"2019-06-25T09:02","s":"B#202 new cal","v":0.082},{"t":"2019-06-25T09:12","s":"B#202 new cal","v":0.081},{"t":"2019-06-25T09:22","s":"B#202 new cal","v":0.084},{"t":"2019-06-25T09:32","s":"B#202 new cal","v":0.086},{"t":"2019-06-25T09:42","s":"B#202 new cal","v":0.088},{"t":"2019-06-25T09:52","s":"B#202 new cal","v":0.091},{"t":"2019-06-25T10:02","s":"B#202 new cal","v":0.095},{"t":"2019-06-25T10:12","s":"B#202 new cal","v":0.100},{"t":"2019-06-25T10:22","s":"B#202 new cal","v":0.104},{"t":"2019-06-25T10:32","s":"B#202 new cal","v":0.101},{"t":"2019-06-25T10:42","s":"B#202 new cal","v":0.096},{"t":"2019-06-25T10:52","s":"B#202 new cal","v":0.092},{"t":"2019-06-25T11:02","s":"B#202 new cal","v":0.090},{"t":"2019-06-25T11:14","s":"B#202 new cal","v":0.087},{"t":"2019-06-25T11:26","s":"B#202 new cal","v":0.085},{"t":"2019-06-25T11:38","s":"B#202 new cal","v":0.083},{"t":"2019-06-25T11:50","s":"B#202 new cal","v":0.081},{"t":"2019-06-25T12:02","s":"B#202 new cal","v":0.078},{"t":"2019-06-25T12:14","s":"B#202 new cal","v":0.076},{"t":"2019-06-25T12:26","s":"B#202 new cal","v":0.074},{"t":"2019-06-25T12:38","s":"B#202 new cal","v":0.072},{"t":"2019-06-25T12:50","s":"B#202 new cal","v":0.071},{"t":"2019-06-25T13:02","s":"B#202 new cal","v":0.070},{"t":"2019-06-25T13:14","s":"B#202 new cal","v":0.069},{"t":"2019-06-25T13:26","s":"B#202 new cal","v":0.069},{"t":"2019-06-25T13:38","s":"B#202 new cal","v":0.068},{"t":"2019-06-25T13:50","s":"B#202 new cal","v":0.068},{"t":"2019-06-25T14:02","s":"B#202 new cal","v":0.067},{"t":"2019-06-25T14:14","s":"B#202 new cal","v":0.066},{"t":"2019-06-25T14:26","s":"B#202 new cal","v":0.066},{"t":"2019-06-25T14:38","s":"B#202 new cal","v":0.067},{"t":"2019-06-25T14:50","s":"B#202 new cal","v":0.069},{"t":"2019-06-25T15:02","s":"B#202 new cal","v":0.071},{"t":"2019-06-25T15:14","s":"B#202 new cal","v":0.073},{"t":"2019-06-25T15:26","s":"B#202 new cal","v":0.075},{"t":"2019-06-25T15:38","s":"B#202 new cal","v":0.074},{"t":"2019-06-25T15:50","s":"B#202 new cal","v":0.076},{"t":"2019-06-25T16:02","s":"B#202 new cal","v":0.072},{"t":"2019-06-25T16:14","s":"B#202 new cal","v":0.068},{"t":"2019-06-25T16:26","s":"B#202 new cal","v":0.065},{"t":"2019-06-25T16:38","s":"B#202 new cal","v":0.063},{"t":"2019-06-25T16:50","s":"B#202 new cal","v":0.066},{"t":"2019-06-25T17:02","s":"B#202 new cal","v":0.064},{"t":"2019-06-25T17:14","s":"B#202 new cal","v":0.061},{"t":"2019-06-25T17:26","s":"B#202 new cal","v":0.063},{"t":"2019-06-25T17:38","s":"B#202 new cal","v":0.062},{"t":"2019-06-25T17:50","s":"B#202 new cal","v":0.060},{"t":"2019-06-25T18:02","s":"B#202 new cal","v":0.057},{"t":"2019-06-25T18:14","s":"B#202 new cal","v":0.054},{"t":"2019-06-25T18:26","s":"B#202 new cal","v":0.050},{"t":"2019-06-25T18:36","s":"B#202 new cal","v":0.047},
{"t":"2019-06-26T07:10","s":"B#202 new cal","v":0.099},{"t":"2019-06-26T07:14","s":"B#202 new cal","v":0.092},{"t":"2019-06-26T07:19","s":"B#202 new cal","v":0.086},{"t":"2019-06-26T07:24","s":"B#202 new cal","v":0.083},{"t":"2019-06-26T07:28","s":"B#202 new cal","v":0.089},{"t":"2019-06-26T07:35","s":"B#202 new cal","v":0.088},{"t":"2019-06-26T07:47","s":"B#202 new cal","v":0.086},{"t":"2019-06-26T08:24","s":"B#202 new cal","v":0.084},{"t":"2019-06-26T08:30","s":"B#202 new cal","v":0.090},{"t":"2019-06-26T08:43","s":"B#202 new cal","v":0.097},{"t":"2019-06-26T08:52","s":"B#202 new cal","v":0.095},{"t":"2019-06-26T09:01","s":"B#202 new cal","v":0.093},{"t":"2019-06-26T09:15","s":"B#202 new cal","v":0.096},{"t":"2019-06-26T09:29","s":"B#202 new cal","v":0.099},{"t":"2019-06-26T10:24","s":"B#202 new cal","v":0.152},{"t":"2019-06-26T10:30","s":"B#202 new cal","v":0.150},{"t":"2019-06-26T10:43","s":"B#202 new cal","v":0.146},{"t":"2019-06-26T10:55","s":"B#202 new cal","v":0.148},{"t":"2019-06-26T11:01","s":"B#202 new cal","v":0.152},{"t":"2019-06-26T11:10","s":"B#202 new cal","v":0.150},{"t":"2019-06-26T11:19","s":"B#202 new cal","v":0.146},{"t":"2019-06-26T11:47","s":"B#202 new cal","v":0.144},{"t":"2019-06-26T12:25","s":"B#202 new cal","v":0.178},{"t":"2019-06-26T12:30","s":"B#202 new cal","v":0.185},{"t":"2019-06-26T12:42","s":"B#202 new cal","v":0.188},{"t":"2019-06-26T12:50","s":"B#202 new cal","v":0.192},{"t":"2019-06-26T13:01","s":"B#202 new cal","v":0.195},{"t":"2019-06-26T13:10","s":"B#202 new cal","v":0.200},{"t":"2019-06-26T13:19","s":"B#202 new cal","v":0.205},{"t":"2019-06-26T13:33","s":"B#202 new cal","v":0.188},{"t":"2019-06-26T13:40","s":"B#202 new cal","v":0.196},{"t":"2019-06-26T13:56","s":"B#202 new cal","v":0.194},{"t":"2019-06-26T14:05","s":"B#202 new cal","v":0.190},{"t":"2019-06-26T14:14","s":"B#202 new cal","v":0.186},{"t":"2019-06-26T14:25","s":"B#202 new cal","v":0.183},{"t":"2019-06-26T14:38","s":"B#202 new cal","v":0.177},{"t":"2019-06-26T14:45","s":"B#202 new cal","v":0.178},{"t":"2019-06-26T14:52","s":"B#202 new cal","v":0.181},{"t":"2019-06-26T15:01","s":"B#202 new cal","v":0.165},{"t":"2019-06-26T15:10","s":"B#202 new cal","v":0.178},{"t":"2019-06-26T15:19","s":"B#202 new cal","v":0.186},{"t":"2019-06-26T15:30","s":"B#202 new cal","v":0.195},{"t":"2019-06-26T15:38","s":"B#202 new cal","v":0.203},{"t":"2019-06-26T15:45","s":"B#202 new cal","v":0.208},{"t":"2019-06-26T15:56","s":"B#202 new cal","v":0.215},{"t":"2019-06-26T16:05","s":"B#202 new cal","v":0.222},{"t":"2019-06-26T16:10","s":"B#202 new cal","v":0.230},{"t":"2019-06-26T16:20","s":"B#202 new cal","v":0.220},{"t":"2019-06-26T16:33","s":"B#202 new cal","v":0.215},{"t":"2019-06-26T16:40","s":"B#202 new cal","v":0.212},{"t":"2019-06-26T16:52","s":"B#202 new cal","v":0.207},{"t":"2019-06-26T17:05","s":"B#202 new cal","v":0.210},{"t":"2019-06-26T17:19","s":"B#202 new cal","v":0.207},{"t":"2019-06-26T17:30","s":"B#202 new cal","v":0.212},{"t":"2019-06-26T17:38","s":"B#202 new cal","v":0.215},{"t":"2019-06-26T17:48","s":"B#202 new cal","v":0.218},{"t":"2019-06-26T17:56","s":"B#202 new cal","v":0.222},{"t":"2019-06-26T18:05","s":"B#202 new cal","v":0.221},{"t":"2019-06-26T18:10","s":"B#202 new cal","v":0.222}
]
},
"layer": [
{
  "data": {"name": "top"},
  "mark": {"type": "point", "filled": false, "strokeWidth": 1.3, "opacity": 0.8, "size": 169},
  "encoding": {
    "x": {"field": "t", "type": "temporal",
      "scale": {"domain": [{"year":2019,"month":6,"date":24,"hours":4,"minutes":7},{"year":2019,"month":6,"date":26,"hours":20,"minutes":54}], "range": [126, 1530], "nice": false},
      "axis": {"orient": "top", "grid": true, "labels": false, "ticks": false, "domain": false, "title": null,
        "values": [{"year":2019,"month":6,"date":24,"hours":6},{"year":2019,"month":6,"date":24,"hours":12},{"year":2019,"month":6,"date":24,"hours":18},{"year":2019,"month":6,"date":25,"hours":0},{"year":2019,"month":6,"date":25,"hours":6},{"year":2019,"month":6,"date":25,"hours":12},{"year":2019,"month":6,"date":25,"hours":18},{"year":2019,"month":6,"date":26,"hours":0},{"year":2019,"month":6,"date":26,"hours":6},{"year":2019,"month":6,"date":26,"hours":12},{"year":2019,"month":6,"date":26,"hours":18}]}},
    "y": {"field": "v", "type": "quantitative",
      "scale": {"domain": [0, 0.3], "range": [289, 25], "nice": false, "zero": false},
      "axis": {"orient": "left", "offset": -126, "values": [0, 0.05, 0.1, 0.15, 0.2, 0.25, 0.3], "format": ".2f", "title": "AOD 320 nm", "grid": true, "titlePadding": 12}},
    "color": {"field": "s", "type": "nominal", "scale": {"domain": ["B#185 reference", "B#075 old cal", "B#075 new cal"], "range": ["#008000", "#ff0000", "#0000ff"]},
      "legend": {"orient": "none", "legendX": 733, "legendY": 35, "title": null}},
    "shape": {"field": "s", "type": "nominal", "scale": {"domain": ["B#185 reference", "B#075 old cal", "B#075 new cal"], "range": ["square", "M0,-1L1,1L-1,1Z", "M-1.4,0L0,-1.4L1.4,0L0,1.4Z"]},
      "legend": {"orient": "none", "legendX": 733, "legendY": 35, "title": null}}
  }
},
{
  "data": {"values": [{"k": 1}]},
  "mark": {"type": "rect", "filled": false, "stroke": "#383838", "strokeWidth": 2},
  "encoding": {
    "x": {"datum": {"year":2019,"month":6,"date":24,"hours":4,"minutes":7}, "type": "temporal",
      "scale": {"domain": [{"year":2019,"month":6,"date":24,"hours":4,"minutes":7},{"year":2019,"month":6,"date":26,"hours":20,"minutes":54}], "range": [126, 1530], "nice": false},
      "axis": {"orient": "bottom", "offset": -385, "labels": false, "ticks": true, "grid": false, "domain": false, "title": null,
        "values": [{"year":2019,"month":6,"date":24,"hours":6},{"year":2019,"month":6,"date":24,"hours":12},{"year":2019,"month":6,"date":24,"hours":18},{"year":2019,"month":6,"date":25,"hours":0},{"year":2019,"month":6,"date":25,"hours":6},{"year":2019,"month":6,"date":25,"hours":12},{"year":2019,"month":6,"date":25,"hours":18},{"year":2019,"month":6,"date":26,"hours":0},{"year":2019,"month":6,"date":26,"hours":6},{"year":2019,"month":6,"date":26,"hours":12},{"year":2019,"month":6,"date":26,"hours":18}]}},
    "x2": {"datum": {"year":2019,"month":6,"date":26,"hours":20,"minutes":54}},
    "y": {"datum": 0, "type": "quantitative", "scale": {"domain": [0, 0.3], "range": [289, 25], "nice": false, "zero": false}, "axis": null},
    "y2": {"datum": 0.3}
  }
},
{
  "data": {"name": "bot"},
  "mark": {"type": "point", "filled": false, "strokeWidth": 1.3, "opacity": 0.8, "size": 169},
  "encoding": {
    "x": {"field": "t", "type": "temporal",
      "scale": {"domain": [{"year":2019,"month":6,"date":24,"hours":4,"minutes":7},{"year":2019,"month":6,"date":26,"hours":20,"minutes":54}], "range": [119, 1523], "nice": false},
      "axis": {"orient": "top", "grid": true, "labels": false, "ticks": false, "domain": false, "title": "2019-jun-26", "titleX": 1520, "titleY": 655, "titleAlign": "right", "titleBaseline": "middle", "titleAngle": 0,
        "values": [{"year":2019,"month":6,"date":24,"hours":6},{"year":2019,"month":6,"date":24,"hours":12},{"year":2019,"month":6,"date":24,"hours":18},{"year":2019,"month":6,"date":25,"hours":0},{"year":2019,"month":6,"date":25,"hours":6},{"year":2019,"month":6,"date":25,"hours":12},{"year":2019,"month":6,"date":25,"hours":18},{"year":2019,"month":6,"date":26,"hours":0},{"year":2019,"month":6,"date":26,"hours":6},{"year":2019,"month":6,"date":26,"hours":12},{"year":2019,"month":6,"date":26,"hours":18}]}},
    "y": {"field": "v", "type": "quantitative",
      "scale": {"domain": [0, 0.3], "range": [601, 338], "nice": false, "zero": false},
      "axis": {"orient": "left", "offset": -119, "values": [0, 0.05, 0.1, 0.15, 0.2, 0.25, 0.3], "format": ".2f", "title": "AOD 320 nm", "grid": true, "titlePadding": 12}},
    "color": {"field": "s", "type": "nominal", "scale": {"domain": ["B#185 reference", "B#202 old cal", "B#202 new cal"], "range": ["#008000", "#ff0000", "#0000ff"]},
      "legend": {"orient": "none", "legendX": 128, "legendY": 513, "title": null}},
    "shape": {"field": "s", "type": "nominal", "scale": {"domain": ["B#185 reference", "B#202 old cal", "B#202 new cal"], "range": ["square", "M0,-1L1,1L-1,1Z", "M-1.4,0L0,-1.4L1.4,0L0,1.4Z"]},
      "legend": {"orient": "none", "legendX": 128, "legendY": 513, "title": null}}
  }
},
{
  "data": {"values": [{"k": 1}]},
  "mark": {"type": "rect", "filled": false, "stroke": "#383838", "strokeWidth": 2},
  "encoding": {
    "x": {"datum": {"year":2019,"month":6,"date":24,"hours":4,"minutes":7}, "type": "temporal",
      "scale": {"domain": [{"year":2019,"month":6,"date":24,"hours":4,"minutes":7},{"year":2019,"month":6,"date":26,"hours":20,"minutes":54}], "range": [119, 1523], "nice": false},
      "axis": {"orient": "bottom", "offset": -73, "labels": true, "ticks": true, "grid": false, "domain": false, "title": "Date", "titlePadding": 6,
        "values": [{"year":2019,"month":6,"date":24,"hours":6},{"year":2019,"month":6,"date":24,"hours":12},{"year":2019,"month":6,"date":24,"hours":18},{"year":2019,"month":6,"date":25,"hours":0},{"year":2019,"month":6,"date":25,"hours":6},{"year":2019,"month":6,"date":25,"hours":12},{"year":2019,"month":6,"date":25,"hours":18},{"year":2019,"month":6,"date":26,"hours":0},{"year":2019,"month":6,"date":26,"hours":6},{"year":2019,"month":6,"date":26,"hours":12},{"year":2019,"month":6,"date":26,"hours":18}],
        "labelExpr": "hours(datum.value) == 0 ? 'jun-' + timeFormat(datum.value, '%d') : timeFormat(datum.value, '%H:%M')"}},
    "x2": {"datum": {"year":2019,"month":6,"date":26,"hours":20,"minutes":54}},
    "y": {"datum": 0, "type": "quantitative", "scale": {"domain": [0, 0.3], "range": [601, 338], "nice": false, "zero": false}, "axis": null},
    "y2": {"datum": 0.3}
  }
}
]
}
